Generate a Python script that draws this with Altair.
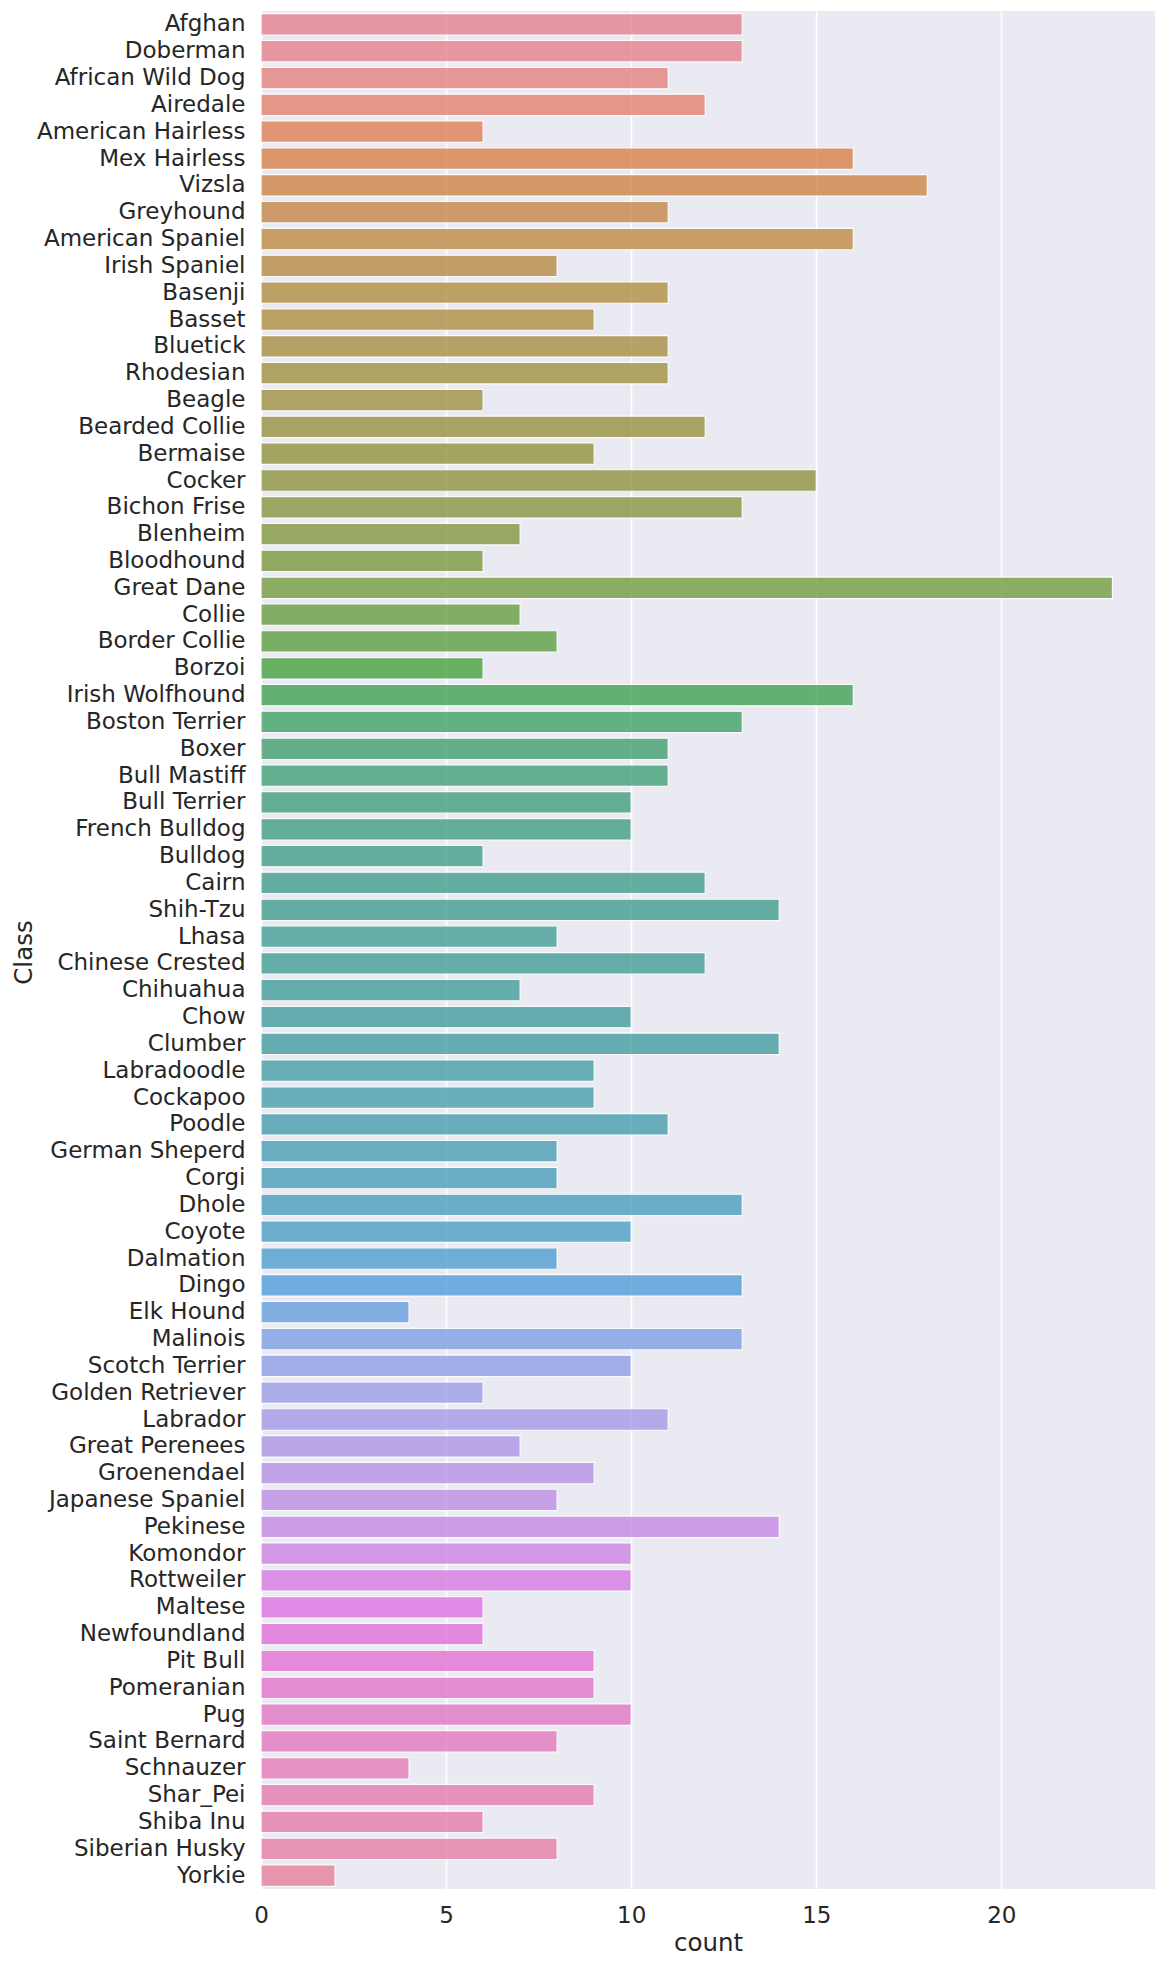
import math
import colorsys
import altair as alt
import pandas as pd

classes = [
    "Afghan", "Doberman", "African Wild Dog", "Airedale", "American Hairless",
    "Mex Hairless", "Vizsla", "Greyhound", "American Spaniel", "Irish Spaniel",
    "Basenji", "Basset", "Bluetick", "Rhodesian", "Beagle",
    "Bearded Collie", "Bermaise", "Cocker", "Bichon Frise", "Blenheim",
    "Bloodhound", "Great Dane", "Collie", "Border Collie", "Borzoi",
    "Irish Wolfhound", "Boston Terrier", "Boxer", "Bull Mastiff", "Bull Terrier",
    "French Bulldog", "Bulldog", "Cairn", "Shih-Tzu", "Lhasa",
    "Chinese Crested", "Chihuahua", "Chow", "Clumber", "Labradoodle",
    "Cockapoo", "Poodle", "German Sheperd", "Corgi", "Dhole",
    "Coyote", "Dalmation", "Dingo", "Elk Hound", "Malinois",
    "Scotch Terrier", "Golden Retriever", "Labrador", "Great Perenees", "Groenendael",
    "Japanese Spaniel", "Pekinese", "Komondor", "Rottweiler", "Maltese",
    "Newfoundland", "Pit Bull", "Pomeranian", "Pug", "Saint Bernard",
    "Schnauzer", "Shar_Pei", "Shiba Inu", "Siberian Husky", "Yorkie",
]
counts = [
    13, 13, 11, 12, 6,
    16, 18, 11, 16, 8,
    11, 9, 11, 11, 6,
    12, 9, 15, 13, 7,
    6, 23, 7, 8, 6,
    16, 13, 11, 11, 10,
    10, 6, 12, 14, 8,
    12, 7, 10, 14, 9,
    9, 11, 8, 8, 13,
    10, 8, 13, 4, 13,
    10, 6, 11, 7, 9,
    8, 14, 10, 10, 6,
    6, 9, 9, 10, 8,
    4, 9, 6, 8, 2,
]
x_ticks = [0, 5, 10, 15, 20]

# ---- husl palette (as in seaborn) ----
_m = [
    [3.240969941904521, -1.537383177570093, -0.498610760293],
    [-0.96924363628087, 1.87596750150772, 0.041555057407175],
    [0.055630079696993, -0.20397695888897, 1.056971514242878],
]
_refU = 0.19783000664283
_refV = 0.46831999493879
_kappa = 903.2962962
_eps = 0.0088564516


def _max_chroma(L, H):
    hrad = math.radians(H)
    sinH, cosH = math.sin(hrad), math.cos(hrad)
    sub1 = math.pow(L + 16, 3.0) / 1560896.0
    sub2 = sub1 if sub1 > _eps else (L / _kappa)
    result = float("inf")
    for m1, m2, m3 in _m:
        top = (0.99915 * m1 + 1.05122 * m2 + 1.14460 * m3) * sub2
        rbottom = 0.86330 * m3 - 0.17266 * m2
        lbottom = 0.12949 * m3 - 0.38848 * m1
        bottom = (rbottom * sinH + lbottom * cosH) * sub2
        for t in (0.0, 1.0):
            C = L * (top - 1.05122 * t) / (bottom + 0.17266 * sinH * t)
            if 0.0 < C < result:
                result = C
    return result


def _f_inv(t):
    return t ** 3 if t ** 3 > _eps else (116.0 * t - 16.0) / _kappa


def _from_linear(c):
    return 12.92 * c if c <= 0.0031308 else 1.055 * math.pow(c, 1 / 2.4) - 0.055


def husl_to_rgb(H, S, L):
    C = _max_chroma(L, H) / 100.0 * S
    hr = math.radians(H)
    U, V = math.cos(hr) * C, math.sin(hr) * C
    varY = _f_inv((L + 16.0) / 116.0)
    varU = U / (13.0 * L) + _refU
    varV = V / (13.0 * L) + _refV
    Y = varY
    X = 0.0 - (9.0 * Y * varU) / ((varU - 4.0) * varV - varU * varV)
    Z = (9.0 * Y - (15.0 * varV * Y) - (varV * X)) / (3.0 * varV)
    rgb = [_from_linear(r[0] * X + r[1] * Y + r[2] * Z) for r in _m]
    return [min(max(v, 0.0), 1.0) for v in rgb]


def husl_palette(n, h=0.01, s=0.9, l=0.65):
    out = []
    for i in range(n):
        hue = ((i / n) + h) % 1 * 359
        r, g, b = husl_to_rgb(hue, s * 99, l * 99)
        hh, ll, ss = colorsys.rgb_to_hls(r, g, b)
        r, g, b = colorsys.hls_to_rgb(hh, ll, ss * 0.75)
        out.append("#%02x%02x%02x" % tuple(int(round(v * 255)) for v in (r, g, b)))
    return out


colors = husl_palette(len(classes))

df = pd.DataFrame({"Class": classes, "count": counts})

FONT = "DejaVu Sans"
TXT = "#262626"

chart = (
    alt.Chart(df)
    .mark_bar(stroke="white", strokeWidth=1.2, opacity=0.8)
    .encode(
        x=alt.X(
            "count:Q",
            scale=alt.Scale(domain=[0, 24.15], nice=False, zero=True),
            axis=alt.Axis(
                values=x_ticks,
                title="count",
                ticks=False,
                tickSize=0,
                domain=False,
                labelFlush=False,
                labelPadding=15,
                labelFontSize=23,
                labelFont=FONT,
                labelColor=TXT,
                titleFontSize=24.5,
                titleFont=FONT,
                titleFontWeight="normal",
                titleColor=TXT,
                titleBaseline="alphabetic",
                titleY=61,
                grid=True,
                gridColor="white",
                gridWidth=1.7,
            ),
        ),
        y=alt.Y(
            "Class:N",
            sort=classes,
            scale=alt.Scale(paddingInner=0.2, paddingOuter=0.1),
            axis=alt.Axis(
                title="Class",
                ticks=False,
                tickSize=0,
                domain=False,
                grid=False,
                labelLimit=0,
                labelPadding=16,
                labelFontSize=23,
                labelFont=FONT,
                labelColor=TXT,
                titleFontSize=24.5,
                titleFont=FONT,
                titleFontWeight="normal",
                titleColor=TXT,
                titleBaseline="alphabetic",
                titleAngle=270,
                titleAlign="center",
                titleX=-230,
                titleY=941,
            ),
        ),
        color=alt.Color(
            "Class:N", scale=alt.Scale(domain=classes, range=colors), legend=None
        ),
    )
    .properties(
        width=894,
        height=1878,
        autosize=alt.AutoSizeParams(type="none"),
        padding={"left": 253, "top": 3, "right": 3, "bottom": 70},
    )
    .configure_view(fill="#EAEAF2", stroke=None)
)

chart.save("out.html", embed_options={"renderer": "svg", "actions": False})
